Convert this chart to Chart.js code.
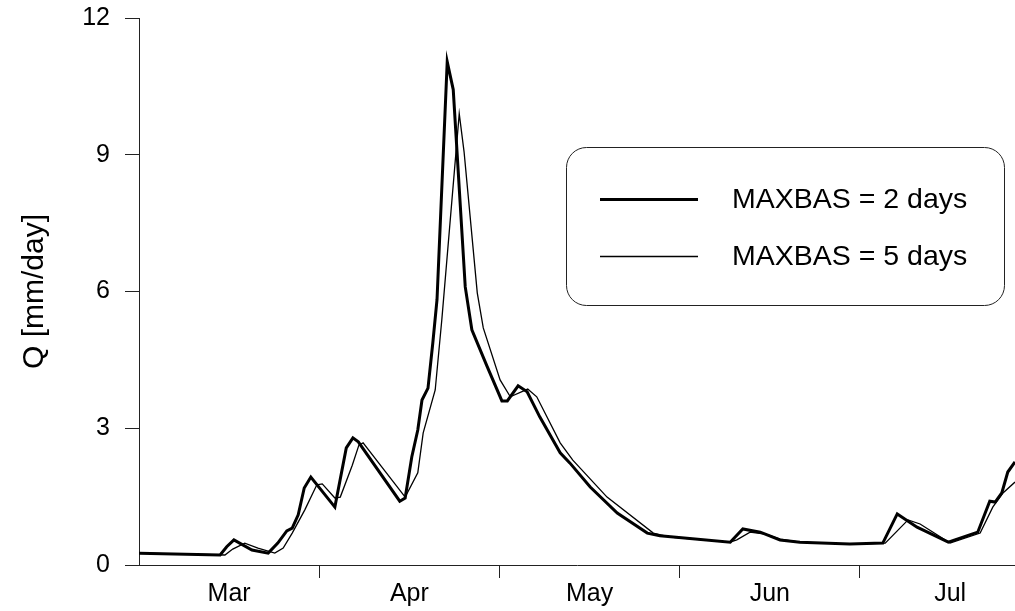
<!DOCTYPE html>
<html lang="en">
<head>
  <meta charset="UTF-8" />
  <title>Q - MAXBAS 2 vs 5 days</title>
  <script src="https://cdn.jsdelivr.net/npm/chart.js"></script>
  <style>
    html, body { margin: 0; padding: 0; background: #fff; }
  </style>
</head>
<body>
  <canvas id="graficoQ" width="1015" height="611"></canvas>

  <script>
    // days counted from 1 March (month ticks every 30 days)
    const diasMax2 = [0, 13.5, 14.6, 15.8, 18.8, 21.5, 23.1, 24.6, 25.5, 26.5, 27.5, 28.6,
      32.6, 34.5, 35.6, 36.5, 43.4, 44.3, 45.4, 46.4, 47.1, 48.1, 48.9, 49.6,
      51.3, 52.3, 54.3, 55.4, 57.9, 60.4, 61.3, 63.1, 64.6, 66.7, 70.1, 71.7,
      75.1, 79.6, 84.6, 86.7, 98.4, 100.5, 103.4, 106.7, 110.0, 118.3, 123.8, 126.2,
      129.5, 134.7, 139.6, 141.6, 142.5, 143.6, 144.6, 145.8];
    const qMax2 = [0.26, 0.22, 0.40, 0.55, 0.33, 0.26, 0.48, 0.75, 0.81, 1.10, 1.69, 1.93,
      1.27, 2.57, 2.79, 2.70, 1.40, 1.47, 2.37, 2.96, 3.62, 3.88, 4.87, 5.82,
      11.04, 10.43, 6.10, 5.16, 4.37, 3.60, 3.60, 3.93, 3.80, 3.25, 2.46, 2.24,
      1.71, 1.14, 0.70, 0.64, 0.50, 0.79, 0.72, 0.55, 0.50, 0.46, 0.48, 1.12,
      0.83, 0.50, 0.72, 1.40, 1.38, 1.58, 2.04, 2.26];

    const diasMax5 = [0, 14.3, 15.6, 17.6, 19.8, 22.6, 24.0, 25.5, 27.6, 29.6, 30.5,
      32.6, 33.5, 35.5, 36.6, 37.3, 44.3, 46.4, 47.3, 49.3, 50.4,
      53.3, 54.1, 56.3, 57.3, 60.1, 61.8, 64.7, 66.2, 70.1, 72.2,
      77.9, 85.6, 88.4, 98.4, 99.5, 101.7, 104.2, 106.7, 110.0, 118.3,
      124.2, 128.0, 130.0, 135.0, 140.0, 142.1, 143.8, 145.8];
    const qMax5 = [0.26, 0.22, 0.35, 0.48, 0.37, 0.26, 0.37, 0.70, 1.21, 1.76, 1.78,
      1.47, 1.49, 2.19, 2.63, 2.68, 1.49, 2.02, 2.90, 3.84, 5.38,
      9.90, 9.07, 5.97, 5.20, 4.06, 3.69, 3.86, 3.69, 2.68, 2.30,
      1.49, 0.70, 0.61, 0.50, 0.55, 0.72, 0.68, 0.57, 0.50, 0.46,
      0.48, 0.99, 0.90, 0.48, 0.70, 1.27, 1.58, 1.82];

    const meses = ['Mar', 'Apr', 'May', 'Jun', 'Jul'];
    const diasRotulo = [15, 45, 75, 105, 135];
    const limitesMes = [30, 60, 90, 120];
    const yTicks = [0, 3, 6, 9, 12];

    const toXY = (xs, ys) => xs.map((x, i) => ({ x: x, y: ys[i] }));

    Chart.defaults.font.family = '"Liberation Sans", Arial, sans-serif';
    Chart.defaults.color = '#000';

    // legenda desenhada dentro da area do grafico
    const legendaCaixa = {
      id: 'legendaCaixa',
      afterDatasetsDraw(chart) {
        const ctx = chart.ctx;
        ctx.save();
        ctx.beginPath();
        ctx.roundRect(566.5, 147.5, 438, 158, 20);
        ctx.fillStyle = '#fff';
        ctx.fill();
        ctx.lineWidth = 1;
        ctx.strokeStyle = '#222';
        ctx.stroke();

        const linhas = [{ y: 199.5, w: 3 }, { y: 256.5, w: 1.3 }];
        chart.data.datasets.forEach((ds, i) => {
          ctx.beginPath();
          ctx.moveTo(600, linhas[i].y);
          ctx.lineTo(698, linhas[i].y);
          ctx.lineWidth = linhas[i].w;
          ctx.strokeStyle = '#000';
          ctx.stroke();
          ctx.font = '28.5px "Liberation Sans", Arial, sans-serif';
          ctx.fillStyle = '#000';
          ctx.textBaseline = 'middle';
          ctx.textAlign = 'left';
          ctx.fillText(ds.label, 732, linhas[i].y + 1);
        });
        ctx.restore();
      }
    };

    const ctx = document.getElementById('graficoQ').getContext('2d');
    new Chart(ctx, {
      type: 'line',
      data: {
        datasets: [{
          label: 'MAXBAS = 2 days',
          data: toXY(diasMax2, qMax2),
          borderColor: '#000',
          borderWidth: 3,
          pointRadius: 0,
          tension: 0,
          fill: false
        }, {
          label: 'MAXBAS = 5 days',
          data: toXY(diasMax5, qMax5),
          borderColor: '#000',
          borderWidth: 1.3,
          pointRadius: 0,
          tension: 0,
          fill: false
        }]
      },
      options: {
        responsive: false,
        animation: false,
        layout: { padding: { top: 18, right: 0, bottom: 0, left: 0 } },
        plugins: {
          legend: { display: false },
          tooltip: { enabled: false }
        },
        scales: {
          x: {
            type: 'linear',
            min: 0,
            max: 145.8,
            afterBuildTicks: (scale) => {
              scale.ticks = diasRotulo.concat(limitesMes)
                .sort((a, b) => a - b)
                .map(v => ({ value: v }));
            },
            afterFit: (scale) => { scale.height = 46; },
            ticks: {
              autoSkip: false,
              maxRotation: 0,
              padding: 1,
              font: { size: 25 },
              callback: (v) => {
                const i = diasRotulo.indexOf(v);
                return i >= 0 ? meses[i] : '';
              }
            },
            grid: {
              drawOnChartArea: false,
              tickLength: 13,
              tickWidth: 1,
              tickColor: (c) => (c.tick && limitesMes.includes(c.tick.value)) ? '#222' : 'rgba(0,0,0,0)'
            },
            border: { display: true, color: '#222', width: 1 }
          },
          y: {
            min: 0,
            max: 12,
            afterBuildTicks: (scale) => {
              scale.ticks = yTicks.map(v => ({ value: v }));
            },
            afterFit: (scale) => { scale.width = 139; },
            ticks: {
              padding: 15,
              // small lineHeight keeps the top label from pushing the plot area down
              font: { size: 25, lineHeight: 0.24 }
            },
            grid: {
              drawOnChartArea: false,
              tickLength: 14,
              tickWidth: 1,
              tickColor: '#222'
            },
            border: { display: true, color: '#222', width: 1 },
            title: {
              display: true,
              text: 'Q [mm/day]',
              font: { size: 30 },
              padding: { top: 17, bottom: 0 }
            }
          }
        }
      },
      plugins: [legendaCaixa]
    });
  </script>
</body>
</html>
